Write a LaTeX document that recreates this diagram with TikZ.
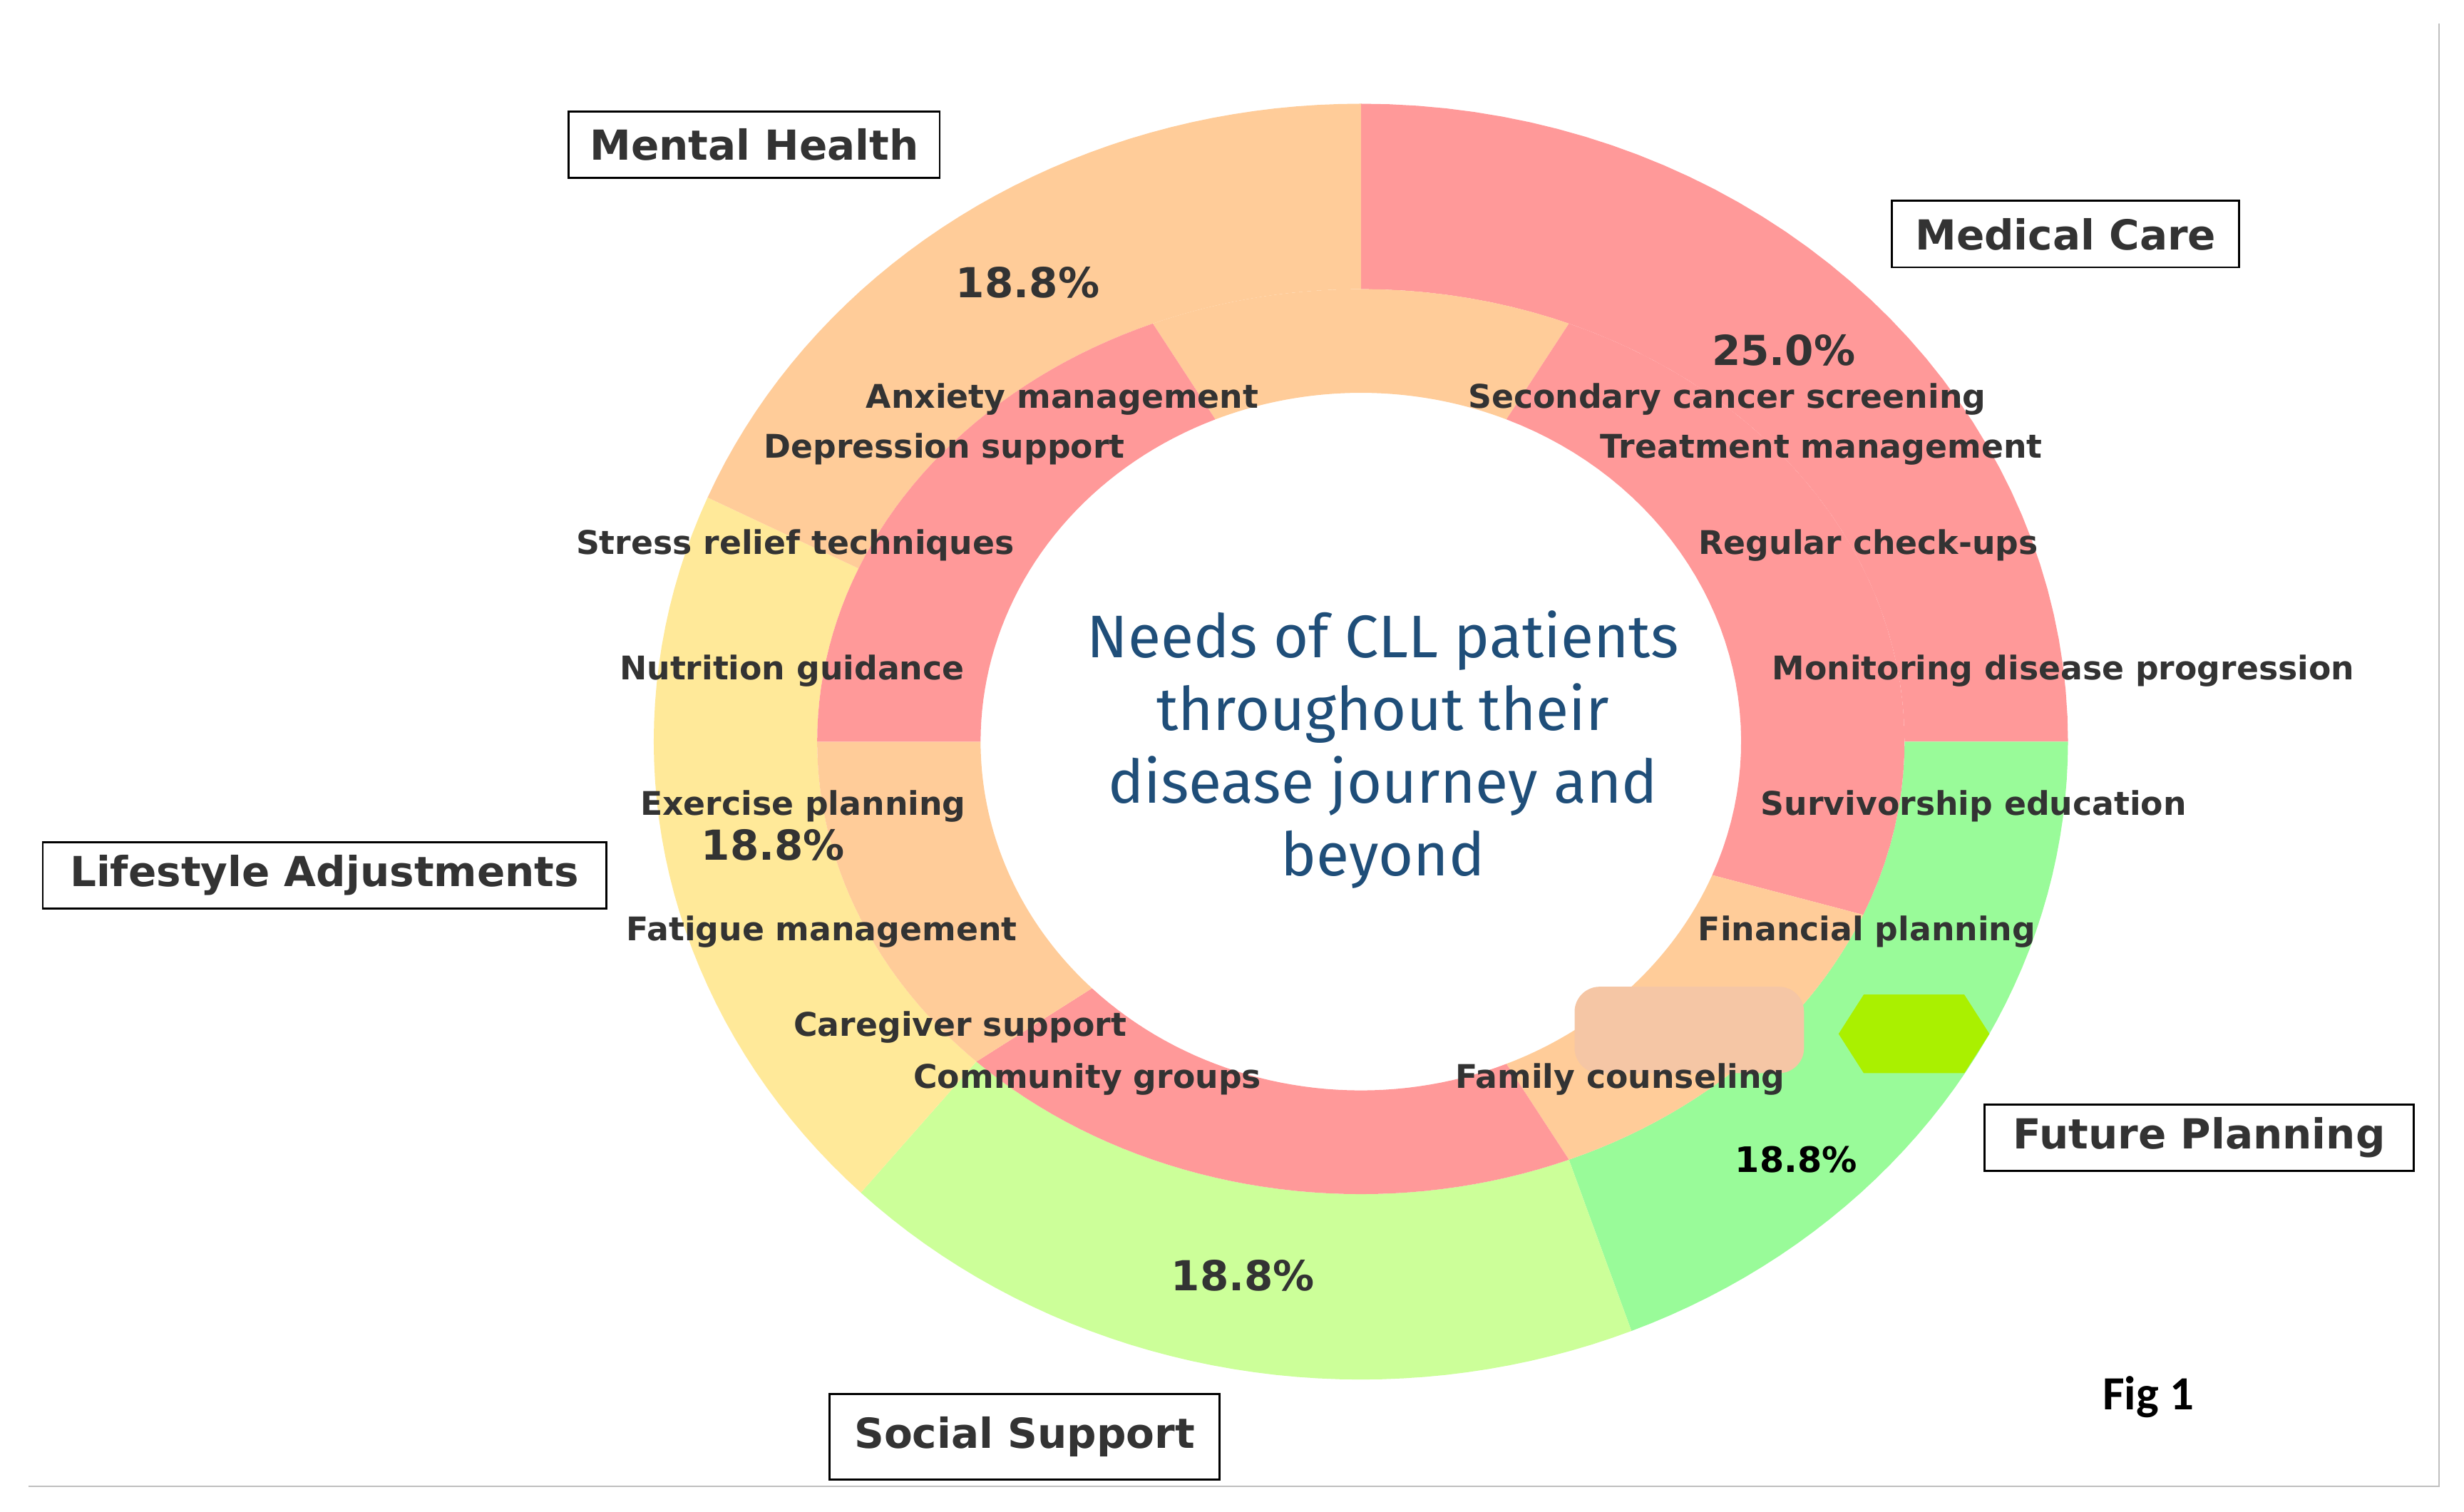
\documentclass[tikz,border=0pt]{standalone}
\usepackage{fontspec}
\setmainfont{DejaVu Sans}
\newfontfamily\ctr{Fira Sans}
\newfontfamily\figf{Carlito}
\definecolor{pk}{HTML}{FF9999}
\definecolor{og}{HTML}{FFCC99}
\definecolor{yl}{HTML}{FFE999}
\definecolor{lg}{HTML}{CCFF99}
\definecolor{gr}{HTML}{99FB99}
\definecolor{tx}{HTML}{333333}
\definecolor{bl}{HTML}{1F4E79}
\newcommand{\wedgeR}[7]{% color, t1, t2, ax, ay, bx, by
  \fill[#1] plot[domain=#2:#3,samples=40] ({866+#4*cos(\x)},{472-#5*sin(\x)})
   -- plot[domain=#3:#2,samples=40] ({866+#6*cos(\x)},{472-#7*sin(\x)}) -- cycle;}
\tikzset{item/.style={text=tx,font=\bfseries\fontsize{13}{15}\selectfont,inner sep=0},
 pct/.style={text=tx,font=\bfseries\fontsize{16.5}{18}\selectfont,inner sep=0},
 cat/.style={draw=black,line width=0.8pt,text=tx,font=\bfseries\fontsize{16.5}{18}\selectfont,inner sep=0,minimum height=0.93cm}}
\begin{document}
\begin{tikzpicture}[x=0.02204cm,y=-0.02204cm]
\useasboundingbox (0,0) rectangle (1568,962);
% outer ring
\wedgeR{pk}{0}{90}{450}{406}{346}{288}
\wedgeR{gr}{-67.5}{0}{450}{406}{346}{288}
\wedgeR{lg}{-135}{-67.5}{450}{406}{346}{288}
\wedgeR{yl}{-202.5}{-135}{450}{406}{346}{288}
\wedgeR{og}{90}{157.5}{450}{406}{346}{288}
% inner ring
\wedgeR{og}{67.5}{112.5}{346}{288}{242}{222}
\wedgeR{pk}{-22.5}{67.5}{346}{288}{242}{222}
\wedgeR{og}{-67.5}{-22.5}{346}{288}{242}{222}
\wedgeR{pk}{-135}{-67.5}{346}{288}{242}{222}
\wedgeR{og}{-180}{-135}{346}{288}{242}{222}
\wedgeR{pk}{112.5}{180}{346}{288}{242}{222}
% blobs
\fill[fill={rgb,255:red,245;green,198;blue,165}, rounded corners=10] (1002,628) rectangle (1148,683);
\fill[fill={rgb,255:red,170;green,240;blue,0}] (1170,658) -- (1186,633) -- (1250,633) -- (1266,658) -- (1250,683) -- (1186,683) -- cycle;
% frame
\draw[gray!50,line width=0.6pt] (18,946) -- (1552,946) -- (1552,15);
% center text
\node[align=center,text=bl,font=\ctr\fontsize{24}{29}\selectfont,inner sep=0] (ctr) at (880,477) {Needs of CLL patients\\throughout their\\disease journey and\\beyond};
% items
\node[item] (i1) at (676,254) {Anxiety management};
\node[item] (i2) at (1099,254) {Secondary cancer screening};
\node[item] (i3) at (601,286) {Depression support};
\node[item] (i4) at (1159,286) {Treatment management};
\node[item] (i5) at (506,347) {Stress relief techniques};
\node[item] (i6) at (1189,347) {Regular check-ups};
\node[item] (i7) at (504,427) {Nutrition guidance};
\node[item] (i8) at (1313,427) {Monitoring disease progression};
\node[item] (i9) at (511,513) {Exercise planning};
\node[item] (i10) at (1256,513) {Survivorship education};
\node[item] (i11) at (523,593) {Fatigue management};
\node[item] (i12) at (1188,593) {Financial planning};
\node[item] (i13) at (611,654) {Caregiver support};
\node[item] (i14) at (1031,687) {Family counseling};
\node[item] (i15) at (692,687) {Community groups};
% percentages
\node[pct] (p1) at (654,180) {18.8\%};
\node[pct] (p2) at (1135,223) {25.0\%};
\node[pct] (p3) at (492,538) {18.8\%};
\node[pct] (p4) at (791,812) {18.8\%};
\node[pct,text=black,font=\bfseries\fontsize{14}{16}\selectfont] (p5) at (1143,738) {18.8\%};
% categories
\node[cat,minimum width=5.2cm] (c1) at (480,92) {Mental Health};
\node[cat,minimum width=4.87cm] (c2) at (1314.5,149) {Medical Care};
\node[cat,minimum width=7.9cm] (c3) at (206.5,557) {Lifestyle Adjustments};
\node[cat,minimum width=6.02cm] (c4) at (1399.5,724) {Future Planning};
\node[cat,minimum width=5.47cm,minimum height=1.2cm] (c5) at (652,914.5) {Social Support};
\node[font=\figf\bfseries\fontsize{19}{22}\selectfont,inner sep=0] (fig) at (1367,889) {Fig 1};
\end{tikzpicture}
\end{document}
